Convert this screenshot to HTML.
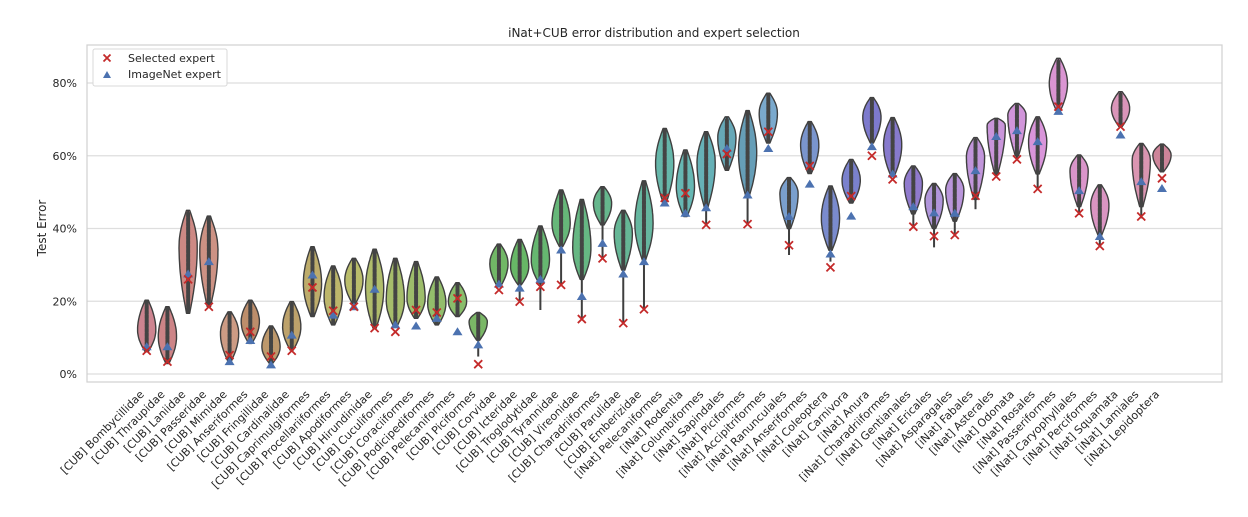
<!DOCTYPE html>
<html><head><meta charset="utf-8">
<style>
html,body{margin:0;padding:0;background:#fff;}
svg{display:block;font-family:"DejaVu Sans","Liberation Sans",sans-serif;}
</style></head>
<body>
<svg id="chart" width="1248" height="517" viewBox="0 0 1248 517" xmlns="http://www.w3.org/2000/svg">
  <rect x="0" y="0" width="1248" height="517" fill="#fff"/>
  <text x="654" y="37" font-size="12" fill="#262626" text-anchor="middle">iNat+CUB error distribution and expert selection</text>
  <text transform="translate(46,228) rotate(-90)" font-size="12" fill="#262626" text-anchor="middle">Test Error</text>
  <g id="grid"></g>
  <rect x="87" y="45" width="1135" height="337" fill="none" stroke="#d0d0d0" stroke-width="1.2"/>
  <g id="yticks"></g>
  <g id="violins"></g>
  <g id="xlabels"></g>
  <g>
    <rect x="93" y="49" width="134" height="37" rx="2" fill="#fff" fill-opacity="0.9" stroke="#d8d8d8"/>
    <g>
      <path d="M103.5,54.5 L110.5,61.5 M110.5,54.5 L103.5,61.5" stroke="#c42a2a" stroke-width="1.8"/>
      <text x="128" y="62" font-size="11" fill="#262626">Selected expert</text>
    </g>
    <g>
      <path d="M103,78 L111,78 L107,71 Z" fill="#4c72b0"/>
      <text x="128" y="78" font-size="11" fill="#262626">ImageNet expert</text>
    </g>
  </g>
</svg>
<script>
const cats = ["[CUB] Bombycillidae","[CUB] Thraupidae","[CUB] Laniidae","[CUB] Passeridae","[CUB] Mimidae","[CUB] Anseriformes","[CUB] Fringillidae","[CUB] Cardinalidae","[CUB] Caprimulgiformes","[CUB] Procellariiformes","[CUB] Apodiformes","[CUB] Hirundinidae","[CUB] Cuculiformes","[CUB] Coraciiformes","[CUB] Podicipediformes","[CUB] Pelecaniformes","[CUB] Piciformes","[CUB] Corvidae","[CUB] Icteridae","[CUB] Troglodytidae","[CUB] Tyrannidae","[CUB] Vireonidae","[CUB] Charadriiformes","[CUB] Parulidae","[CUB] Emberizidae","[iNat] Pelecaniformes","[iNat] Rodentia","[iNat] Columbiformes","[iNat] Sapindales","[iNat] Piciformes","[iNat] Accipitriformes","[iNat] Ranunculales","[iNat] Anseriformes","[iNat] Coleoptera","[iNat] Carnivora","[iNat] Anura","[iNat] Charadriiformes","[iNat] Gentianales","[iNat] Ericales","[iNat] Asparagales","[iNat] Fabales","[iNat] Asterales","[iNat] Odonata","[iNat] Rosales","[iNat] Passeriformes","[iNat] Caryophyllales","[iNat] Perciformes","[iNat] Squamata","[iNat] Lamiales","[iNat] Lepidoptera"];
const tops = [20.3,18.5,45,43.4,17.1,20.3,13.2,19.9,35,29.7,31.8,34.3,31.8,30.9,26.7,25.1,16.9,35.7,37,40.7,50.6,48,51.5,45,53.1,67.5,61.6,66.6,70.7,72.4,77.2,54,69.4,51.7,59,76,70.5,57.2,52.4,55.1,65,70.3,74.4,70.7,86.8,60.2,52,77.6,63.4,63.2];
const violinBottoms = [6.1,2.9,16.7,18.5,3.4,8.4,2.9,6.6,15.8,13.5,19.4,12.6,13,15.3,13.5,15.8,9.3,24,24.5,25,35,26,41,28.6,31.3,47,43.3,45.6,56,48.7,63.5,40,55.1,34,47,63.5,54.3,44,40,42,48,55,60,55,72.1,46,38,68,46,55.6];
const minVals = [6.1,2.9,16.7,18.5,3.4,8.4,2.9,6.6,15.8,13.5,19.4,12.6,13,15.3,13.5,15.8,4.8,24,19.9,17.6,24.5,14.8,31.8,13.9,17.8,47,43.3,41,56,41.2,63.5,32.7,55.1,30.9,47,63.5,54.3,40.5,34.8,37.8,45.3,54.3,59,50.6,72.1,43.7,35,68,42.8,55.6];
const modes = [12.1,10.3,35,34,11.2,14.4,7.5,13,24.9,21.3,25.8,23.6,20.3,20.8,19.4,19.9,14.4,30.4,29.5,31.3,41.4,34.6,46.9,38.7,41.4,58,51.5,58,65,61,71.7,49.7,63,42.9,53.3,70.7,63,52.4,47.8,50.6,59.7,68.4,71.2,63.9,79.9,56,46.5,73,58.8,60.2];
const selected = [6.4,3.4,26,18.5,5.2,11.6,4.8,6.4,23.8,17.4,18.5,12.6,11.6,17.6,16.9,20.8,2.7,23.1,19.9,24,24.5,15.1,31.8,14,17.8,48.4,49.7,41,60.5,41.2,66.6,35.4,57.2,29.3,48.9,60,53.5,40.5,37.9,38.2,49,54.3,59,50.9,73.5,44.2,35.2,68,43.3,53.8];
const imagenet = [7.5,7.5,27.5,30.9,3.4,9.2,2.5,10.7,27.2,16.2,18.5,23.3,13.5,13.2,15.3,11.6,8,24.7,23.6,26,34.1,21.3,35.9,27.5,30.9,47,44.2,45.7,62,49.2,62,43.3,52.2,33,43.4,62.5,55,46,44.3,44.2,55.9,65.3,66.9,63.9,72.2,50.4,37.8,65.7,52.9,51];
const yTicks = [0,20,40,60,80];

const NS = "http://www.w3.org/2000/svg";
const yScale = v => 374 - v * 3.6375;
const xScale = i => 146.7 + i * 20.72;
function mk(tag, attrs, parent){
  const e = document.createElementNS(NS, tag);
  for (const k in attrs) e.setAttribute(k, attrs[k]);
  parent.appendChild(e);
  return e;
}
const grid = document.getElementById('grid');
const yt = document.getElementById('yticks');
yTicks.forEach(t => {
  const y = yScale(t);
  const l = mk('line', {x1:87, x2:1222, y1:y, y2:y, stroke:'#dedede', 'stroke-width':1.2}, grid);
  
  
  const tx = mk('text', {x:77, y:y+4, 'font-size':11, fill:'#262626', 'text-anchor':'end'}, yt);
  tx.textContent = t + '%';
  
  
});

function hslColor(i){
  const h = (350 + i * 7.2) % 360;
  let s = 42, l = 66;
  if (h > 20 && h < 100) { l = 58; s = 38; }
  if (h >= 100 && h < 200) { l = 56; s = 36; }
  if (h >= 200 && h < 260) { l = 64; s = 45; }
  if (h >= 260 && h < 340) { l = 72; s = 48; }
  return `hsl(${h},${s}%,${l}%)`;
}

const vg = document.getElementById('violins');
const xl = document.getElementById('xlabels');
cats.forEach((c, i) => {
  const cx = xScale(i);
  const g = mk('g', {}, vg);
  
  
  const top = tops[i], vb = violinBottoms[i], md = Math.min(Math.max(modes[i], vb + 0.5), top - 0.5);
  const hw = 7.5;
  const N = 30, right = [], left = [];
  for (let k = 0; k <= N; k++) {
    const v = vb + (top - vb) * k / N;
    let u = v >= md ? (v - md) / (top - md) : (md - v) / (md - vb);
    const w = hw * Math.pow(Math.max(0, 1 - u * u), 1.1) + 1.6;
    right.push([cx + w, yScale(v)]);
    left.push([cx - w, yScale(v)]);
  }
  let d = 'M' + right.map(p => p[0].toFixed(1) + ',' + p[1].toFixed(1)).join(' L');
  d += ' L' + left.reverse().map(p => p[0].toFixed(1) + ',' + p[1].toFixed(1)).join(' L') + ' Z';
  const body = mk('path', {d: d, fill: hslColor(i), stroke: '#3f3f3f', 'stroke-width': 1.4, 'stroke-linejoin': 'round'}, g);
  
  
  const ln = mk('line', {x1: cx, x2: cx, y1: yScale(minVals[i]), y2: yScale(top), stroke: '#3f3f3f', 'stroke-width': 2}, g);
  
  
  const inner = mk('line', {x1: cx, x2: cx, y1: yScale(vb) - 2, y2: yScale(top) + 2, stroke: '#444', 'stroke-width': 4, 'stroke-dasharray': '3,1.5', 'stroke-linecap': 'round'}, g);
  
  
  const ty = yScale(imagenet[i]);
  const tri = mk('path', {d: `M${cx-5},${ty+3.5} L${cx+5},${ty+3.5} L${cx},${ty-4.5} Z`, fill: '#4c72b0'}, g);
  
  
  const sy = yScale(selected[i]);
  const xm = mk('path', {d: `M${cx-4},${sy-4} L${cx+4},${sy+4} M${cx+4},${sy-4} L${cx-4},${sy+4}`, stroke: '#c42a2a', 'stroke-width': 1.8}, g);
  
  
  const t = mk('text', {x: cx - 2, y: 395, 'font-size': 11, fill: '#262626', 'text-anchor': 'end', transform: `rotate(-45 ${cx - 2} 395)`}, xl);
  t.textContent = c;
  
  
});
</script>
</body></html>
